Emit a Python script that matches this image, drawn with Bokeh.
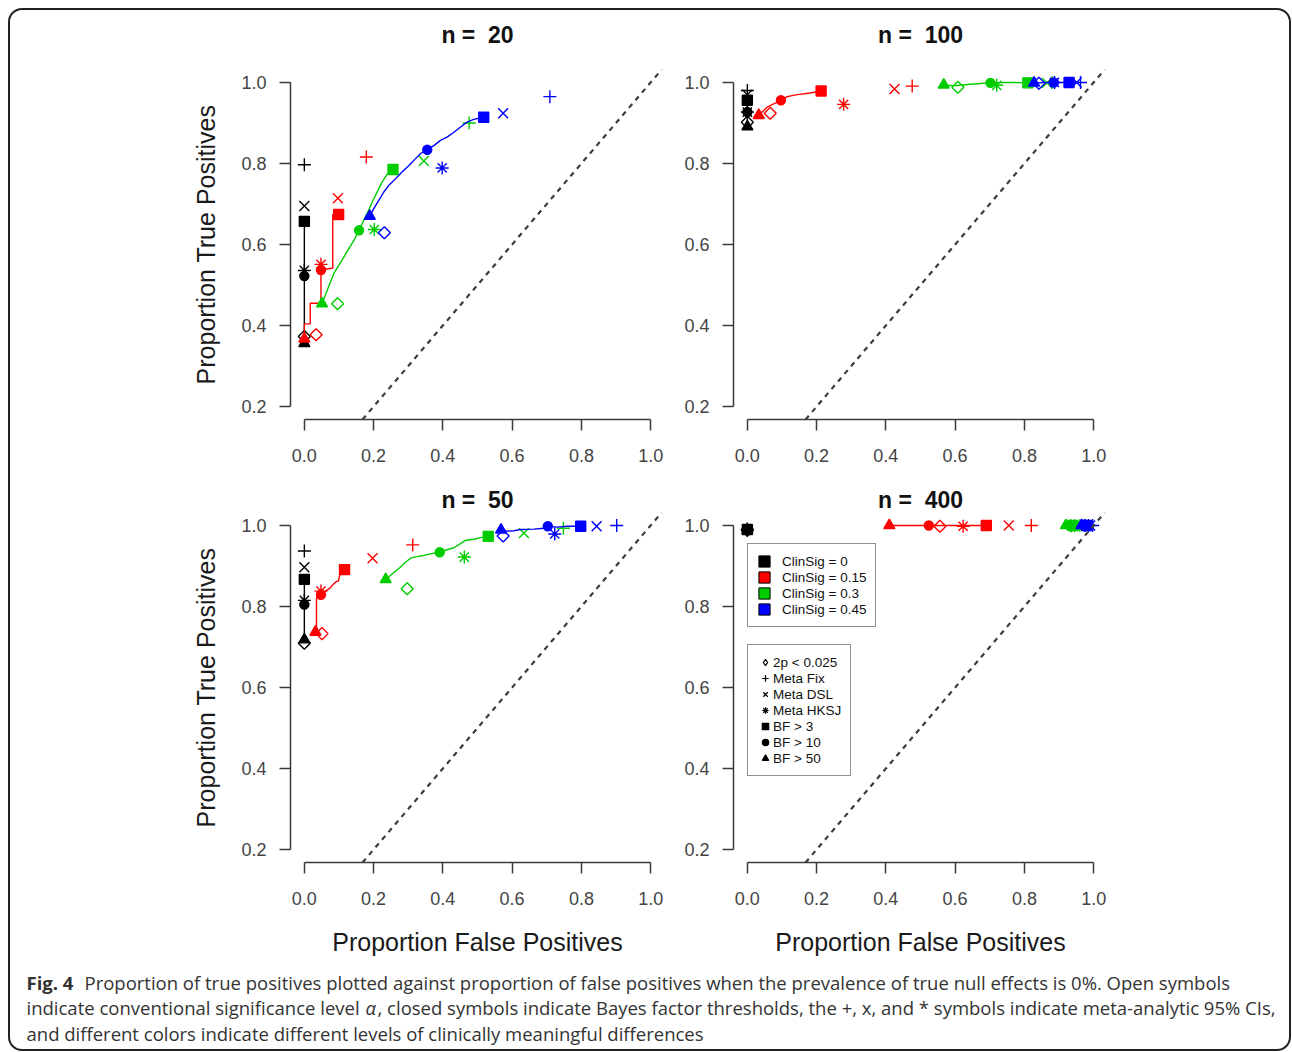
import math
from bokeh.plotting import figure
from bokeh.layouts import row, column
from bokeh.models import (Range1d, FixedTicker, NumeralTickFormatter, Slope, Legend,
                          LegendItem, Label, Title)
from bokeh.embed import file_html
from bokeh.resources import INLINE

# ---------------- data ----------------
methods = ["2p < 0.025", "Meta Fix", "Meta DSL", "Meta HKSJ", "BF > 3", "BF > 10", "BF > 50"]
clinsig_labels = ["ClinSig = 0", "ClinSig = 0.15", "ClinSig = 0.3", "ClinSig = 0.45"]
x_ticks = [0.0, 0.2, 0.4, 0.6, 0.8, 1.0]
y_ticks = [0.2, 0.4, 0.6, 0.8, 1.0]

# rows: ClinSig 0, 0.15, 0.3, 0.45 ; columns: methods
n20_fp = [
    [0.000, 0.000, 0.000, 0.000, 0.000, 0.000, 0.000],
    [0.034, 0.179, 0.097, 0.048, 0.099, 0.048, 0.000],
    [0.096, 0.476, 0.345, 0.202, 0.256, 0.158, 0.051],
    [0.231, 0.709, 0.574, 0.398, 0.518, 0.355, 0.189],
]
n20_tp = [
    [0.373, 0.797, 0.695, 0.536, 0.657, 0.522, 0.356],
    [0.377, 0.816, 0.714, 0.551, 0.674, 0.537, 0.367],
    [0.454, 0.900, 0.806, 0.637, 0.785, 0.635, 0.454],
    [0.629, 0.965, 0.924, 0.789, 0.914, 0.834, 0.670],
]
n20_curve_fp = [
    [0.0, 0.0],
    [0.0, 0.0, 0.017, 0.017, 0.048, 0.048, 0.082, 0.082, 0.099],
    [0.051, 0.0655, 0.075, 0.085, 0.099, 0.114, 0.128, 0.143, 0.158, 0.171, 0.183, 0.196,
     0.210, 0.2245, 0.239, 0.256],
    [0.189, 0.200, 0.215, 0.229, 0.244, 0.263, 0.282, 0.302, 0.321, 0.335, 0.355, 0.374,
     0.393, 0.412, 0.432, 0.451, 0.470, 0.489, 0.518],
]
n20_curve_tp = [
    [0.657, 0.356],
    [0.367, 0.404, 0.404, 0.455, 0.455, 0.537, 0.542, 0.674, 0.674],
    [0.4535, 0.486, 0.507, 0.528, 0.548, 0.569, 0.589, 0.610, 0.635, 0.659, 0.680, 0.705,
     0.729, 0.754, 0.773, 0.785],
    [0.670, 0.688, 0.709, 0.729, 0.746, 0.762, 0.779, 0.795, 0.812, 0.824, 0.834, 0.844,
     0.857, 0.865, 0.877, 0.890, 0.902, 0.909, 0.914],
]

n100_fp = [
    [0.000, 0.000, 0.000, 0.000, 0.000, 0.000, 0.000],
    [0.066, 0.476, 0.425, 0.278, 0.213, 0.097, 0.033],
    [0.608, 0.880, 0.865, 0.720, 0.810, 0.702, 0.567],
    [0.842, 0.962, 0.951, 0.887, 0.929, 0.885, 0.828],
]
n100_tp = [
    [0.902, 0.980, 0.970, 0.927, 0.956, 0.927, 0.891],
    [0.924, 0.991, 0.984, 0.946, 0.979, 0.956, 0.919],
    [0.988, 1.000, 0.999, 0.993, 0.999, 0.999, 0.994],
    [0.998, 1.000, 1.000, 1.000, 1.000, 1.000, 0.999],
]
n100_curve_fp = [
    [0.0, 0.0],
    [0.033, 0.047, 0.057, 0.076, 0.097, 0.115, 0.144, 0.182, 0.213],
    [0.567, 0.596, 0.635, 0.664, 0.693, 0.702, 0.741, 0.770, 0.810],
    [0.828, 0.870, 0.929],
]
n100_curve_tp = [
    [0.956, 0.891],
    [0.919, 0.931, 0.939, 0.947, 0.956, 0.965, 0.970, 0.974, 0.979],
    [0.994, 0.992, 0.995, 0.997, 0.999, 0.999, 1.000, 1.000, 0.999],
    [0.999, 1.000, 1.000],
]

n50_fp = [
    [0.000, 0.000, 0.000, 0.000, 0.000, 0.000, 0.000],
    [0.051, 0.313, 0.197, 0.048, 0.116, 0.048, 0.032],
    [0.297, 0.748, 0.634, 0.462, 0.531, 0.391, 0.235],
    [0.574, 0.902, 0.844, 0.723, 0.798, 0.703, 0.568],
]
n50_tp = [
    [0.709, 0.937, 0.897, 0.815, 0.867, 0.805, 0.718],
    [0.733, 0.952, 0.919, 0.838, 0.891, 0.829, 0.737],
    [0.844, 0.993, 0.981, 0.922, 0.973, 0.934, 0.867],
    [0.974, 1.000, 0.998, 0.979, 0.998, 0.998, 0.989],
]
n50_curve_fp = [
    [0.0, 0.0],
    [0.032, 0.035, 0.035, 0.041, 0.048, 0.061, 0.075, 0.080, 0.090, 0.099, 0.102, 0.109, 0.116],
    [0.235, 0.249, 0.263, 0.277, 0.292, 0.308, 0.326, 0.345, 0.364, 0.391, 0.412, 0.432,
     0.451, 0.465, 0.489, 0.509, 0.531],
    [0.568, 0.586, 0.605, 0.624, 0.663, 0.692, 0.703, 0.730, 0.759, 0.798],
]
n50_curve_tp = [
    [0.867, 0.718],
    [0.737, 0.741, 0.821, 0.825, 0.829, 0.838, 0.846, 0.852, 0.860, 0.864, 0.877, 0.885, 0.891],
    [0.867, 0.877, 0.887, 0.897, 0.909, 0.920, 0.923, 0.926, 0.930, 0.934, 0.940, 0.945,
     0.955, 0.963, 0.966, 0.970, 0.973],
    [0.989, 0.986, 0.987, 0.990, 0.991, 0.993, 0.998, 0.996, 0.998, 0.998],
]

n400_fp = [
    [0.000, 0.000, 0.000, 0.000, 0.000, 0.000, 0.000],
    [0.556, 0.820, 0.755, 0.623, 0.690, 0.524, 0.410],
    [0.935, 0.960, 0.952, 0.945, 0.940, 0.930, 0.920],
    [0.975, 0.997, 0.990, 0.985, 0.980, 0.972, 0.965],
]
n400_tp = [
    [0.988, 0.991, 0.990, 0.989, 0.990, 0.989, 0.988],
    [0.998, 1.000, 1.000, 0.998, 1.000, 1.000, 1.000],
    [0.999, 1.000, 1.000, 0.999, 1.000, 1.000, 1.000],
    [1.000, 1.000, 1.000, 1.000, 1.000, 1.000, 1.000],
]
n400_curve_fp = [
    [0.0, 0.0],
    [0.410, 0.524, 0.690],
    [0.920, 0.930, 0.940],
    [0.965, 0.972, 0.980],
]
n400_curve_tp = [
    [0.990, 0.988],
    [1.000, 1.000, 1.000],
    [1.000, 1.000, 1.000],
    [1.000, 1.000, 1.000],
]

# ---------------- styles ----------------
FONT = "Liberation Sans"
CAP_FONT = "Open Sans"
colors = ["#000000", "#FF0000", "#00CD00", "#0000FF"]
# marker, size, angle, filled  (same order as methods)
marker_specs = [
    ("square", 8.5, math.pi / 4, False),
    ("cross", 13, 0.0, False),
    ("x", 14, 0.0, False),
    ("asterisk", 13, 0.0, False),
    ("square", 10, 0.0, True),
    ("circle", 9, 0.0, True),
    ("triangle", 11, 0.0, True),
]
legend_markers = [("diamond", False), ("cross", False), ("x", False), ("asterisk", False),
                  ("square", True), ("circle", True), ("triangle", True)]
NAN = float("nan")


def make_panel(title, fp, tp, cfp, ctp, width, height, mbl, mbr, mbt, mbb,
               ylabel, xlabel, lift):
    p = figure(width=width, height=height, output_backend="svg", toolbar_location=None,
               title=None,
               x_range=Range1d(-0.04, 1.04), y_range=Range1d(0.168, 1.032),
               min_border_left=mbl, min_border_right=mbr,
               min_border_top=mbt, min_border_bottom=mbb)
    p.outline_line_color = None
    p.grid.visible = False
    p.background_fill_color = None
    p.border_fill_color = None
    for ax, bounds, ticks, stand in ((p.xaxis[0], (0.0, 1.0), x_ticks, 18),
                                     (p.yaxis[0], (0.2, 1.0), y_ticks, 13)):
        ax.bounds = bounds
        ax.ticker = FixedTicker(ticks=ticks)
        ax.formatter = NumeralTickFormatter(format="0.0")
        ax.minor_tick_line_color = None
        ax.major_tick_in = 0
        ax.major_tick_out = 11
        ax.axis_line_color = "#3a3a3a"
        ax.axis_line_width = 1.5
        ax.major_tick_line_color = "#3a3a3a"
        ax.major_tick_line_width = 1.5
        ax.major_label_text_font = FONT
        ax.major_label_text_font_size = "18px"
        ax.major_label_text_color = "#444444"
        ax.major_label_standoff = stand
        ax.axis_label_text_font = FONT
        ax.axis_label_text_font_size = "25px"
        ax.axis_label_text_font_style = "normal"
        ax.axis_label_text_color = "#1a1a1a"
    p.yaxis.axis_label = ylabel
    p.yaxis.axis_label_standoff = 18
    p.xaxis.axis_label = xlabel
    p.xaxis.axis_label_standoff = 20

    # panel title; for the upper panels an empty second line lifts it off the frame
    ttl = title + "\n\u00a0" if lift else title
    p.add_layout(Title(text=ttl, align="center", text_font=FONT, text_font_size="23px",
                       text_font_style="bold", text_color="#111111",
                       standoff=-8 if lift else 0, text_line_height=1.0), "above")

    p.add_layout(Slope(gradient=1, y_intercept=0, line_color="#3c3c3c",
                       line_dash="5 5", line_width=2.2))

    for c in range(4):
        p.line(cfp[c], ctp[c], line_color=colors[c], line_width=1.4)
        for m in range(len(methods)):
            mk, sz, ang, filled = marker_specs[m]
            p.scatter([fp[c][m]], [tp[c][m]], marker=mk, size=sz, angle=ang,
                      line_color=colors[c], line_width=1.4,
                      fill_color=colors[c] if filled else None)
    return p


YL = "Proportion True Positives"
XL = "Proportion False Positives"

p1 = make_panel("n = \u00a020", n20_fp, n20_tp, n20_curve_fp, n20_curve_tp,
                662, 467, 282, 6, 61, 56, YL, None, True)
p2 = make_panel("n = \u00a0100", n100_fp, n100_tp, n100_curve_fp, n100_curve_tp,
                621, 467, 63, 184, 61, 56, None, None, True)
p3 = make_panel("n = \u00a050", n50_fp, n50_tp, n50_curve_fp, n50_curve_tp,
                662, 490, 282, 6, 37, 103, YL, XL, False)
p4 = make_panel("n = \u00a0400", n400_fp, n400_tp, n400_curve_fp, n400_curve_tp,
                621, 490, 63, 184, 37, 103, None, XL, False)

# legends in the n = 400 panel (legend-only renderers have no visible data)
items1 = []
for c in range(4):
    r = p4.quad(left=[NAN], right=[NAN], top=[NAN], bottom=[NAN], fill_color=colors[c],
                line_color="#000000", line_width=1)
    items1.append(LegendItem(label=clinsig_labels[c], renderers=[r]))
leg1 = Legend(items=items1, location=(14, 235), padding=9, spacing=0,
              glyph_width=14, glyph_height=14, label_height=16, label_standoff=11,
              margin=0, border_line_color="#222222", border_line_width=1.3,
              background_fill_color="white", background_fill_alpha=1.0,
              label_text_font=FONT, label_text_font_size="13.5px",
              label_text_color="#111111")
p4.add_layout(leg1)

items2 = []
for m in range(len(methods)):
    mk, filled = legend_markers[m]
    r = p4.scatter(x=[NAN], y=[NAN], marker=mk, line_color="#000000", line_width=1.2,
                   fill_color="#000000" if filled else None)
    items2.append(LegendItem(label=methods[m], renderers=[r]))
leg2 = Legend(items=items2, location=(14, 86), padding=9, spacing=0,
              glyph_width=16, glyph_height=16, label_height=16, label_standoff=0,
              margin=0, border_line_color="#222222", border_line_width=1.3,
              background_fill_color="white", background_fill_alpha=1.0,
              label_text_font=FONT, label_text_font_size="13.5px",
              label_text_color="#111111")
p4.add_layout(leg2)

# caption
cap = figure(width=1283, height=86, output_backend="svg", toolbar_location=None,
             x_range=Range1d(0, 1283), y_range=Range1d(0, 86), min_border=0,
             x_axis_type=None, y_axis_type=None)
cap.grid.visible = False
cap.outline_line_color = None
cap.background_fill_color = None
cap.border_fill_color = None

cap_pieces = [
    ("Fig. 4", 18, 69.5, "bold"),
    ("Proportion of true positives plotted against proportion of false positives when the "
     "prevalence of true null effects is 0%. Open symbols", 76, 69.5, "normal"),
    ("indicate conventional significance level", 18, 44, "normal"),
    ("α", 357, 44, "italic"),
    (", closed symbols indicate Bayes factor thresholds, the +, x, and * symbols indicate "
     "meta-analytic 95% CIs,", 369, 44, "normal"),
    ("and different colors indicate different levels of clinically meaningful differences",
     18, 18.5, "normal"),
]
for txt, x, y, style in cap_pieces:
    cap.add_layout(Label(x=x, y=y, x_units="screen", y_units="screen", text=txt,
                         text_font=CAP_FONT, text_font_size="18.5px",
                         text_font_style=style, text_color="#333333",
                         text_baseline="alphabetic", text_align="left"))

layout = column(row(p1, p2), row(p3, p4), cap, margin=(8, 0, 0, 8),
                styles={"outline": "2px solid #222222", "outline-offset": "-2px",
                        "border-radius": "14px"})

open("out.html", "w").write(file_html(layout, INLINE))
